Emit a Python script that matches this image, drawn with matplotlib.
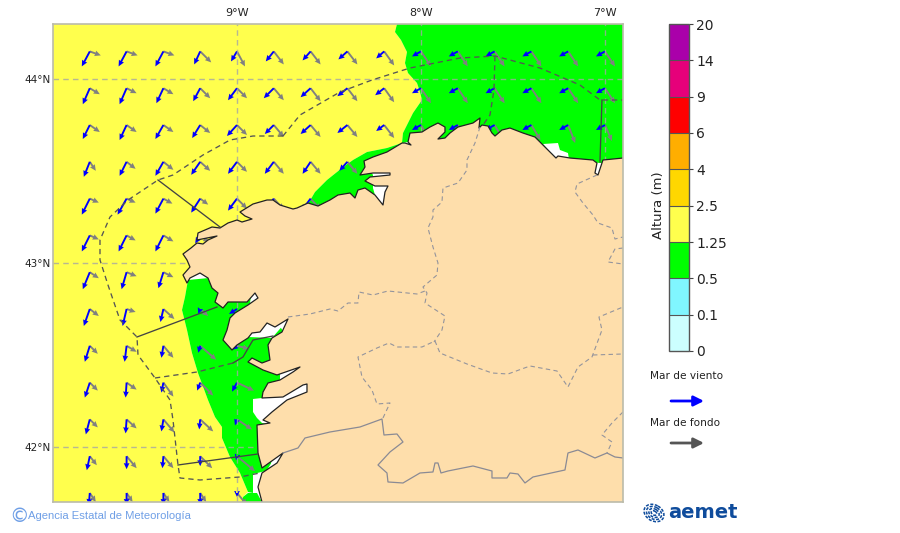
import numpy as np
import matplotlib
matplotlib.use('Agg')
import matplotlib.pyplot as plt
from matplotlib.colors import ListedColormap, BoundaryNorm
from matplotlib.cm import ScalarMappable
from matplotlib.patches import Ellipse, FancyArrowPatch

# Map outlines (184 units per degree, 9W = 237, 44N = 79)
NE_EDGE = [(397,24),(395,32),(401,40),(407,52),(405,63),(408,73),(417,83),(420,92),(422,100),(413,113),(403,133),(402,143)]
CENTRE_EDGE = [(387,148),(367,152),(353,160),(342,168),(327,180),(315,192),(308,204)]
WEST_EDGE = [(188,280),(185,297),(182,310),(187,330),(192,353),(198,373),(208,400),(215,417),(222,427),(222,438),(230,457),(240,473),(248,492)]

COAST = [(623,158),(603,160),(602,163),(598,175),(595,173),(597,163),(593,160),(570,158),(558,156),(556,158),(552,154),
         (543,145),(535,137),(523,133),(510,128),(502,130),(495,136),(492,133),(488,126),(482,125),(479,128),(480,118),
         (473,123),(458,127),(450,133),(445,138),(438,139),(445,132),(445,127),(438,123),(430,127),(422,132),(410,133),
         (408,142),(411,145),(405,143),(402,143),(387,152),(373,157),(364,161),(365,167),(360,175),(373,173),(390,173),
         (390,175),(370,177),(365,181),(375,186),(388,186),(385,192),(383,205),(375,195),(365,188),(358,190),(355,198),
         (350,193),(338,195),(330,200),(318,206),(308,203),(297,208),(293,209),(280,205),(273,200),(267,200),(253,204),
         (240,212),(245,216),(252,219),(242,222),(237,220),(228,223),(220,228),(212,227),(198,233),(197,240),(217,236),
         (208,240),(203,244),(197,243),(191,248),(183,254),(187,260),(190,267),(183,275),(187,283),(190,278),(200,273),
         (208,278),(212,288),(218,293),(215,302),(223,308),(228,302),(247,302),(255,293),(258,298),(248,305),(235,313),
         (230,318),(227,330),(223,340),(232,350),(237,345),(248,338),(252,333),(260,332),(267,323),(275,327),(288,319),
         (282,332),(272,338),(268,345),(270,360),(262,363),(252,358),(248,362),(263,370),(277,375),(300,367),(293,372),
         (280,380),(268,383),(263,392),(262,398),(283,397),(303,385),(307,384),(307,392),(287,400),(272,412),(263,420),
         (270,423),(257,425),(258,453),(262,468),(283,453),(277,463),(262,473),(258,487),(262,502),(623,502)]

WHITE_PATCHES = [
    [(543,144),(558,143),(560,150),(568,153),(569,159),(556,157),(550,152)],
    [(253,399),(262,398),(290,392),(312,380),(312,395),(275,425),(262,423),(257,418),(253,412)],
    [(248,337),(272,338),(292,315),(265,318),(248,332)],
    [(250,303),(252,290),(262,290),(262,300)],
    [(280,385),(280,373),(302,362),(305,372),(290,382)],
    [(267,470),(272,462),(285,450),(287,456),(275,470)],
    [(283,502),(293,497),(295,502)],
]

# zone limits at sea
ZONE_DASHED = [
    [(283,136),(253,136),(230,140),(203,155),(173,175),(158,180),(128,200),(110,217),(100,240),(100,260),(108,285),(120,320),(137,337),(138,355),(155,378),(170,400),(173,420),(178,465),(180,478),(200,480),(240,477),(260,473)],
    [(283,136),(300,115),(340,92),(372,80),(410,68),(460,58),(495,56),(540,68),(580,85),(600,100),(623,100)],
    [(495,56),(494,90),(490,115),(483,125)],
    [(155,378),(197,372),(233,363)],
]
ZONE_SOLID = [
    [(158,180),(220,227)],
    [(137,337),(217,307)],
    [(233,363),(243,357),(253,340),(273,336)],
    [(178,465),(258,454)],
    [(602,100),(600,162)],
]

# land borders
BORDERS = [
    [(480,127),(475,143),(467,160),(467,170),(458,183),(443,188),(442,202),(433,210),(433,217),(428,228),(433,247),(438,263),(437,275),(423,287),(427,293),(425,303),(445,316),(442,330),(434,342)],
    [(288,317),(310,314),(330,309),(338,311),(348,303),(358,303),(359,292),(373,295),(388,291),(417,294),(425,291)],
    [(383,418),(390,403),(377,404),(372,390),(362,377),(358,357),(377,348),(389,343),(397,347),(422,347),(435,341),(440,353),(467,364),(492,373),(508,374),(530,366),(557,371),(568,387),(578,367),(592,357),(602,330),(599,317),(623,307)],
    [(593,355),(623,354)],
    [(597,175),(577,184),(575,192),(583,203),(593,215),(598,223),(612,228),(615,239),(623,237)],
    [(623,248),(615,249),(608,262),(623,264)],
    [(623,412),(612,423),(602,435),(612,442),(607,453)],
]
PORTUGAL = [(283,453),(298,448),(305,438),(330,432),(360,427),(382,419),(384,435),(397,434),(403,442),(390,452),(378,465),
            (387,473),(388,482),(403,483),(420,473),(433,472),(435,463),(438,463),(441,473),(448,471),(473,466),(492,471),
            (492,478),(507,478),(510,473),(518,474),(525,483),(533,477),(565,470),(568,453),(578,450),(595,458),(607,453),
            (615,457),(623,458)]

# wave grid
LONS = [-9.8, -9.6, -9.4, -9.2, -9.0, -8.8, -8.6, -8.4, -8.2, -8.0, -7.8, -7.6, -7.4, -7.2, -7.0]
LATS = [44.15, 43.95, 43.75, 43.55, 43.35, 43.15, 42.95, 42.75, 42.55, 42.35, 42.15, 41.95, 41.75]

# arrow components per row (east, north), rows stop where the land starts
WIND_U = [
    [-8,-8,-8,-6,-6,-8,-8,-9,-8,-9,-9,-9,-9,-9,-9],
    [-7,-7,-7,-7,-9,-10,-10,-10,-9,-9,-9,-9,-9,-9,-9],
    [-7,-7,-8,-8,-10,-9,-10,-10,-8,-9,-9,-9,-9,-9,-9],
    [-6,-7,-8,-9,-9,-9,-8,-8],
    [-8,-9,-8,-9,-9,-9,-9,-5],
    [-8,-8,-8,-5],
    [-7,-5,-5],
    [-6,-4,-3,-2,-8],
    [-5,-2,-2,-2,-5],
    [-5,-1,-2,-3,-5],
    [-4,-1,-2,-1,-2],
    [-3,0,-1,0,-1],
    [-1,0,0,0,0],
]
WIND_V = [
    [-15,-15,-15,-13,-10,-10,-9,-8,-7,-5,-5,-5,-5,-5,-5],
    [-16,-16,-15,-13,-12,-10,-9,-8,-7,-5,-5,-5,-5,-5,-5],
    [-14,-15,-14,-13,-11,-9,-9,-8,-6,-5,-5,-5,-5,-5,-5],
    [-15,-14,-14,-13,-12,-12,-12,-9],
    [-16,-16,-15,-14,-12,-12,-12,-7],
    [-16,-16,-16,-8],
    [-17,-17,-16],
    [-17,-17,-13,-5,-5],
    [-16,-16,-12,-7,-4],
    [-15,-15,-10,-8,-9],
    [-15,-14,-12,-10,-6],
    [-14,-13,-12,-10,-4],
    [-12,-12,-12,-12,-4],
]
SWELL_U = [
    [11,11,11,11,8,10,10,10,10,10,10,10,10,10,10],
    [10,10,10,10,10,10,10,10,10,10,10,10,10,10,10],
    [10,10,10,10,10,10,10,10,10,9,9,9,9,7,7],
    [6,9,10,10,10,10,10,10],
    [9,9,9,8,10,10,10,10],
    [9,9,10,9],
    [9,10,10],
    [9,9,11,8,0],
    [8,10,10,16,12],
    [8,10,10,13,17],
    [8,10,11,13,15],
    [7,10,10,12,18],
    [6,6,6,6,10],
]
SWELL_V = [
    [-4,-4,-4,-11,-15,-13,-13,-13,-14,-15,-15,-15,-15,-15,-15],
    [-6,-5,-6,-10,-10,-12,-13,-13,-14,-15,-15,-15,-15,-15,-15],
    [-7,-7,-7,-8,-10,-12,-12,-12,-13,-15,-15,-15,-15,-18,-16],
    [-9,-7,-8,-9,-10,-12,-12,-12],
    [-4,-4,-5,-6,-10,-11,-11,-13],
    [-4,-5,-6,-7],
    [-6,-4,-5],
    [-7,-3,-10,-7,0],
    [-8,-6,-12,-14,-3],
    [-8,-7,-14,-13,-8],
    [-8,-9,-13,-12,-10],
    [-9,-12,-12,-12,-15],
    [-9,-9,-9,-9,-12],
]

# scale
LEVELS = [0, 0.1, 0.5, 1.25, 2.5, 4, 6, 9, 14, 20]
LEVEL_LABELS = ['0', '0.1', '0.5', '1.25', '2.5', '4', '6', '9', '14', '20']
LEVEL_COLORS = ['#ccffff', '#80f6ff', '#00ff00', '#ffff4d', '#ffd700', '#ffae00', '#ff0000', '#e6007a', '#aa00aa']

XTICKS = [-9, -8, -7]
XTICK_LABELS = ['9°W', '8°W', '7°W']
YTICKS = [42, 43, 44]
YTICK_LABELS = ['42°N', '43°N', '44°N']


def to_lonlat(points):
    pts = np.array(points, dtype=float)
    return -9 + (pts[:, 0] - 237) / 184, 44 - (pts[:, 1] - 79) / 184


def fill_map(ax, points, color, zorder):
    lon, lat = to_lonlat(points)
    ax.fill(lon, lat, color=color, lw=0, zorder=zorder)


def draw_line(ax, points, **kw):
    lon, lat = to_lonlat(points)
    ax.plot(lon, lat, **kw)


YELLOW = [(53,24)] + NE_EDGE + CENTRE_EDGE + [(280,215),(230,240),(200,260)] + WEST_EDGE + [(243,497),(242,502),(53,502)]
GREEN_NORTH = NE_EDGE + [(420,140),(445,140),(500,137),(540,150),(580,162),(623,164),(623,24)]
GREEN_CENTRE = [(402,143)] + CENTRE_EDGE + [(330,210),(365,195),(375,195),(373,188),(373,175),(370,170),(400,155)]
GREEN_WEST = WEST_EDGE + [(253,493),(253,474),(270,470),(275,440),(270,400),(300,360),(290,340),(260,300),(240,275)]
GREEN_SOUTH = [(243,497),(248,493),(257,493),(262,502),(242,502)]

fig = plt.figure(figsize=(9, 5.33), dpi=100)
ax = fig.add_axes([53/900, 1 - 502/533, 570/900, 478/533])
ax.set_xlim(-10.0, -6.902)
ax.set_ylim(41.701, 44.299)
ax.set_facecolor('white')

fill_map(ax, YELLOW, '#ffff4d', 1)
for part in [GREEN_NORTH, GREEN_CENTRE, GREEN_WEST, GREEN_SOUTH]:
    fill_map(ax, part, '#00ff00', 1)
for part in WHITE_PATCHES:
    fill_map(ax, part, 'white', 1.5)

# swell and wind sea, land goes on top and hides what falls on it
arrow_kw = dict(angles='uv', scale_units='dots', scale=1, units='dots', width=1.9,
                headwidth=3.0, headlength=3.2, headaxislength=3.0, minshaft=0.6, minlength=0)
for i, lat in enumerate(LATS):
    n = len(WIND_U[i])
    lat_col = [lat] * n
    ax.quiver(LONS[:n], lat_col, SWELL_U[i], SWELL_V[i], color='#808080', zorder=2, **arrow_kw)
    ax.quiver(LONS[:n], lat_col, WIND_U[i], WIND_V[i], color='#0000ff', zorder=2.1, **arrow_kw)

fill_map(ax, COAST, '#fedeab', 3)
draw_line(ax, COAST[:-1], color='#222222', lw=0.9, zorder=3.2)

for part in BORDERS:
    draw_line(ax, part, color='#94949c', lw=0.8, ls=(0, (4, 3)), zorder=3.5)
draw_line(ax, PORTUGAL, color='#8a8a94', lw=0.9, zorder=3.5)
for part in ZONE_DASHED:
    draw_line(ax, part, color='#555555', lw=0.95, ls=(0, (4, 3)), zorder=3.6)
for part in ZONE_SOLID:
    draw_line(ax, part, color='#444444', lw=0.95, zorder=3.6)

ax.set_xticks(XTICKS)
ax.set_xticklabels(XTICK_LABELS, fontsize=8, color='#222222')
ax.set_yticks(YTICKS)
ax.set_yticklabels(YTICK_LABELS, fontsize=7.5, color='#222222')
ax.tick_params(length=0, top=True, labeltop=True, bottom=False, labelbottom=False)
ax.tick_params(axis='x', pad=4)
ax.tick_params(axis='y', pad=2)
ax.grid(True, color='#a5a5a5', lw=1.0, ls=(0, (4, 3)), alpha=0.8, zorder=4)
ax.set_axisbelow(False)
for s in ax.spines.values():
    s.set_color('#bbbbaa')
    s.set_linewidth(1.2)
    s.set_zorder(5)

# height scale
cax = fig.add_axes([669/900, 1 - 351/533, 20/900, 327/533])
cmap = ListedColormap(LEVEL_COLORS)
norm = BoundaryNorm(LEVELS, cmap.N)
cb = fig.colorbar(ScalarMappable(norm=norm, cmap=cmap), cax=cax, spacing='uniform', ticks=LEVELS,
                  drawedges=True)
cb.ax.set_yticklabels(LEVEL_LABELS, fontsize=10, color='#222222')
cb.ax.tick_params(length=3, width=0.8, pad=2, color='#444444')
cb.dividers.set_color('#555555')
cb.dividers.set_linewidth(0.8)
cb.outline.set_edgecolor('#555555')
cb.outline.set_linewidth(1.0)
cb.ax.yaxis.set_label_position('left')
cb.set_label('Altura (m)', fontsize=9.5, labelpad=3, color='#222222', y=0.447)

# arrows key
fig.text(650/900, 1 - 376/533, 'Mar de viento', fontsize=7.6, color='#222222', va='center')
fig.text(650/900, 1 - 423/533, 'Mar de fondo', fontsize=7.6, color='#222222', va='center')
for y, c in [(401, '#0000ff'), (443, '#555555')]:
    fig.add_artist(FancyArrowPatch((671/900, 1 - y/533), (704/900, 1 - y/533), transform=fig.transFigure,
                                   arrowstyle='-|>', mutation_scale=15, lw=2, color=c, shrinkA=0, shrinkB=0))

# footer
fig.text(9/900, 1 - 516/533, '©', fontsize=14, color='#6f9fe6', va='center')
fig.text(28/900, 1 - 516/533, 'Agencia Estatal de Meteorología', fontsize=8.1, family='Liberation Sans',
         color='#6f9fe6', va='center')
fig.text(668/900, 1 - 512/533, 'aemet', fontsize=14, fontweight='bold', color='#0f4c9c', va='center')

# logo swirl
lax = fig.add_axes([641/900, 1 - 524/533, 25/900, 22/533])
lax.set_xlim(0, 25)
lax.set_ylim(22, 0)
lax.axis('off')
for w, h in [(6, 4), (11, 8), (16, 12), (21, 16)]:
    lax.add_patch(Ellipse((13, 11), w, h, angle=30, fill=False, ec='#0f4c9c', lw=1.1, ls=(0, (2, 1))))

fig.savefig('out.png', dpi=100)
